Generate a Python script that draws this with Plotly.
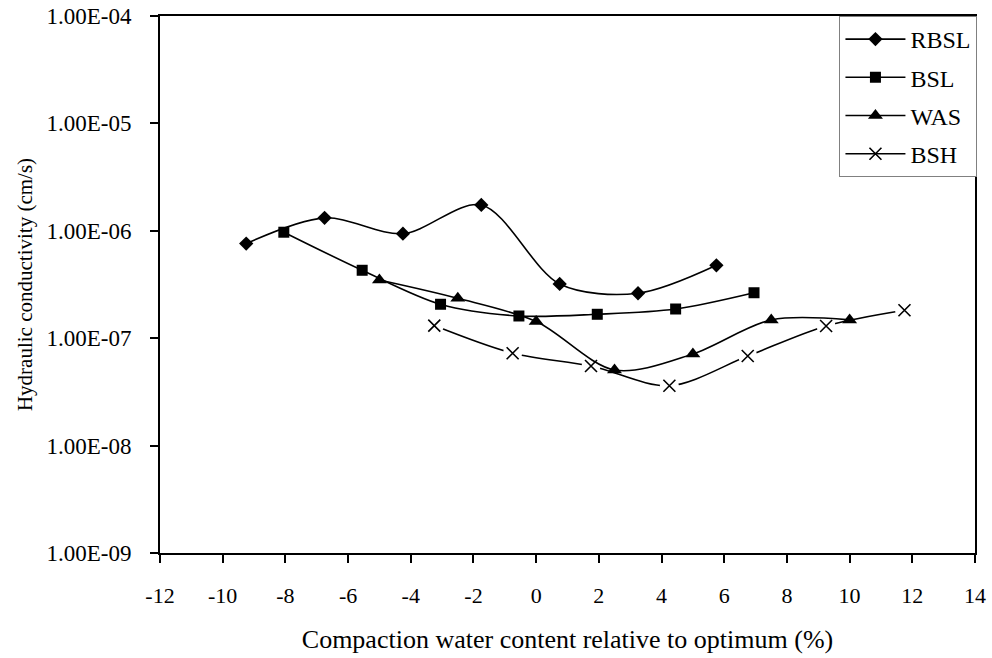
import plotly.graph_objects as go

# ---- data ----
rbsl_x = [-9.25, -6.75, -4.25, -1.75, 0.75, 3.25, 5.75]
rbsl_y = [7.6e-7, 1.32e-6, 9.4e-7, 1.74e-6, 3.2e-7, 2.62e-7, 4.77e-7]

bsl_x = [-8.05, -5.55, -3.05, -0.55, 1.95, 4.45, 6.95]
bsl_y = [9.7e-7, 4.29e-7, 2.07e-7, 1.61e-7, 1.67e-7, 1.87e-7, 2.65e-7]

was_x = [-5.0, -2.5, 0.0, 2.5, 5.0, 7.5, 10.0]
was_y = [3.48e-7, 2.35e-7, 1.43e-7, 5.06e-8, 7.13e-8, 1.48e-7, 1.48e-7]

bsh_x = [-3.25, -0.75, 1.75, 4.25, 6.75, 9.25, 11.75]
bsh_y = [1.31e-7, 7.24e-8, 5.51e-8, 3.61e-8, 6.82e-8, 1.30e-7, 1.82e-7]

y_tickvals = [1e-9, 1e-8, 1e-7, 1e-6, 1e-5, 1e-4]
y_ticktext = ["1.00E-09", "1.00E-08", "1.00E-07", "1.00E-06", "1.00E-05", "1.00E-04"]
x_tickvals = [-12, -10, -8, -6, -4, -2, 0, 2, 4, 6, 8, 10, 12, 14]
x_ticktext = ["-12", "-10", "-8", "-6", "-4", "-2", "0", "2", "4", "6", "8", "10", "12", "14"]

FONT = "Liberation Serif"

fig = go.Figure()

line_style = dict(color="black", width=1.6, shape="spline", smoothing=0.9)
x_marker = dict(symbol="x-thin", size=12, color="black", line=dict(color="black", width=1.6))

# BSH drawn first (underneath), with white masks to create gaps round the x markers
fig.add_trace(go.Scatter(
    x=bsh_x, y=bsh_y, mode="lines+markers", name="BSH", legendgroup="d", legendrank=4,
    line=line_style, marker=x_marker,
))
fig.add_trace(go.Scatter(
    x=bsh_x, y=bsh_y, mode="markers", showlegend=False, legendgroup="d", hoverinfo="skip",
    marker=dict(symbol="circle", size=19, color="white", line=dict(width=0)),
))
fig.add_trace(go.Scatter(
    x=bsh_x, y=bsh_y, mode="markers", showlegend=False, legendgroup="d", marker=x_marker,
))

fig.add_trace(go.Scatter(
    x=rbsl_x, y=rbsl_y, mode="lines+markers", name="RBSL", legendgroup="a", legendrank=1,
    line=line_style, marker=dict(symbol="diamond", size=11, color="black"),
))
fig.add_trace(go.Scatter(
    x=bsl_x, y=bsl_y, mode="lines+markers", name="BSL", legendgroup="b", legendrank=2,
    line=line_style, marker=dict(symbol="square", size=11, color="black"),
))
fig.add_trace(go.Scatter(
    x=was_x, y=was_y, mode="lines+markers", name="WAS", legendgroup="c", legendrank=3,
    line=line_style, marker=dict(symbol="triangle-up", size=13, color="black"),
))

fig.update_layout(
    width=992, height=658,
    margin=dict(l=160, r=17, t=16, b=105, autoexpand=False),
    paper_bgcolor="white", plot_bgcolor="white",
    font=dict(family=FONT, size=22, color="black"),
    showlegend=True,
    legend=dict(
        x=1.003, y=1.0, xanchor="right", yanchor="top",
        bgcolor="white", bordercolor="#808080", borderwidth=1,
        font=dict(family=FONT, size=24, color="black"),
        traceorder="grouped", tracegroupgap=4, itemwidth=60,
        entrywidth=153, entrywidthmode="pixels",
    ),
    xaxis=dict(
        range=[-12, 14], tickvals=x_tickvals, ticktext=x_ticktext, automargin=False,
        ticks="outside", ticklen=8, tickwidth=1.5, ticklabelstandoff=14,
        tickcolor="black", showline=True, linecolor="black", linewidth=2, mirror=True,
        showgrid=False, zeroline=False,
        title=dict(text="Compaction water content relative to optimum (%)",
                   font=dict(family=FONT, size=26), standoff=22),
        tickfont=dict(family=FONT, size=22),
    ),
    yaxis=dict(
        type="log", range=[-9, -4], tickvals=y_tickvals, ticktext=y_ticktext, automargin=False,
        ticks="outside", ticklen=8, tickwidth=1.5, tickcolor="black", ticklabelstandoff=14,
        showline=True, linecolor="black", linewidth=2, mirror=True,
        showgrid=False, zeroline=False,
        title=dict(text="Hydraulic conductivity (cm/s)", font=dict(family=FONT, size=21), standoff=8),
        tickfont=dict(family=FONT, size=23),
    ),
)

fig.write_html("out.html")
